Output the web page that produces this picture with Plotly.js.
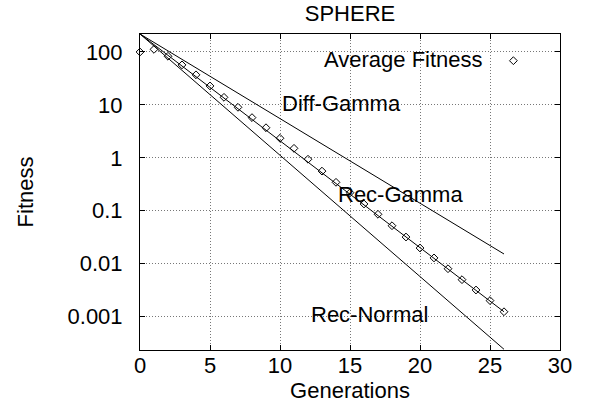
<!DOCTYPE html>
<html>
<head>
<meta charset="utf-8">
<script src="https://cdn.plot.ly/plotly-3.0.1.min.js"></script>
<style>html,body{margin:0;padding:0;background:#fff;}#chart{width:589px;height:410px;}</style>
</head>
<body>
<div id="chart"></div>
<script>
// Data
const generations = [0,1,2,3,4,5,6,7,8,9,10,11,12,13,14,15,16,17,18,19,20,21,22,23,24,25,26];
const averageFitness = [100, 112, 83, 57, 37, 22.8, 13.9, 9.0, 5.75, 3.7, 2.34, 1.51, 0.94, 0.56, 0.344,
  0.219, 0.134, 0.0855, 0.052, 0.0318, 0.0197, 0.0128, 0.0080, 0.00497, 0.00317, 0.0020, 0.00123];
const lineX = [0, 26];
const diffGamma = [219, 0.0152];
const recGamma = [219, 0.00123];
const recNormal = [219, 0.00024];
const yTickVals = [100, 10, 1, 0.1, 0.01, 0.001];
const yTickText = ["100", "10", "1", "0.1", "0.01", "0.001"];
const xTickVals = [0, 5, 10, 15, 20, 25, 30];

const FONT = "Liberation Sans, Arial, sans-serif";
const FS = 22;

const lineStyle = {color: "#000", width: 1};
const traces = [
  {x: lineX, y: diffGamma, mode: "lines", line: lineStyle, name: "Diff-Gamma", showlegend: false},
  {x: lineX, y: recGamma, mode: "lines", line: lineStyle, name: "Rec-Gamma", showlegend: false},
  {x: lineX, y: recNormal, mode: "lines", line: lineStyle, name: "Rec-Normal", showlegend: false},
  {x: generations, y: averageFitness, mode: "markers", name: "Average Fitness", showlegend: false,
   marker: {symbol: "diamond-open", size: 6, color: "#000", line: {width: 1, color: "#000"}}, cliponaxis: false},
  // key sample symbol (paper-like overlay axes)
  {x: [0.889], y: [0.9155], xaxis: "x2", yaxis: "y2", mode: "markers", showlegend: false, hoverinfo: "skip",
   marker: {symbol: "diamond-open", size: 6, color: "#000", line: {width: 1, color: "#000"}}}
];

const ann = (text, x, y, xanchor) => ({text: text, x: x, y: y, xref: "x", yref: "y", showarrow: false,
  xanchor: xanchor || "center", yanchor: "middle", font: {family: FONT, size: FS, color: "#000"}});

const gridDash = "1px,2px";
const layout = {
  width: 589, height: 410,
  margin: {l: 140, r: 29, t: 34, b: 60},
  paper_bgcolor: "#fff", plot_bgcolor: "#fff",
  font: {family: FONT, size: FS, color: "#000"},
  title: {text: "SPHERE", x: 0.5, xref: "paper", y: 1 - 13/410, yref: "container", yanchor: "middle",
          font: {family: FONT, size: FS, color: "#000"}},
  xaxis: {range: [0, 30], tickvals: xTickVals, ticks: "inside", ticklen: 5, tickcolor: "#000",
          showline: true, linecolor: "#000", linewidth: 1, mirror: "ticks",
          showgrid: true, gridcolor: "#777", griddash: gridDash, gridwidth: 1, zeroline: false,
          ticklabelstandoff: -4,
          title: {text: "Generations", standoff: 3, font: {family: FONT, size: FS}}},
  yaxis: {type: "log", range: [-3.633, 2.340], tickvals: yTickVals, ticktext: yTickText,
          ticks: "inside", ticklen: 5, tickcolor: "#000",
          showline: true, linecolor: "#000", linewidth: 1, mirror: "ticks",
          showgrid: true, gridcolor: "#777", griddash: gridDash, gridwidth: 1, zeroline: false,
          ticklabelstandoff: 12,
          title: {text: "Fitness", standoff: 27, font: {family: FONT, size: FS}}},
  xaxis2: {overlaying: "x", range: [0, 1], visible: false},
  yaxis2: {overlaying: "y", range: [0, 1], visible: false},
  annotations: [
    ann("Average Fitness", 24.64, 1.849, "right"),
    ann("Diff-Gamma", 14.4, 1.03),
    ann("Rec-Gamma", 18.63, -0.703),
    ann("Rec-Normal", 16.36, -2.97)
  ],
  showlegend: false
};

Plotly.newPlot("chart", traces, layout, {displayModeBar: false, staticPlot: true});
</script>
</body>
</html>
